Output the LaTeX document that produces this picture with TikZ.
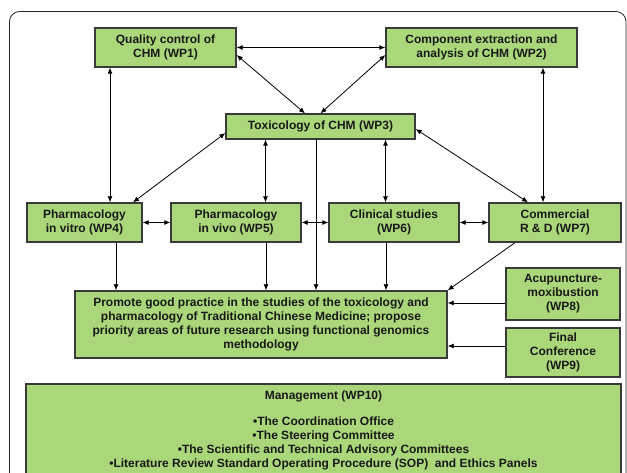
\documentclass[tikz,border=0pt]{standalone}
\usepackage{fontspec}
\setmainfont{Liberation Sans}
\usetikzlibrary{arrows.meta}
\definecolor{boxgreen}{RGB}{170,215,122}
\definecolor{boxline}{RGB}{58,58,58}
\begin{document}
\begin{tikzpicture}[x=1pt,y=-1pt,
  wpbox/.style={draw=boxline,line width=1.3pt,fill=boxgreen,inner sep=0pt,align=center,
    text=black!90,font=\fontsize{12}{14}\selectfont\bfseries},
  bi/.style={line width=0.8pt,{Latex[length=6pt,width=5pt]}-{Latex[length=6pt,width=5pt]}},
  uni/.style={line width=0.8pt,-{Latex[length=6pt,width=5pt]}}]
\useasboundingbox (0,0) rectangle (627,473);
% outer frame
\draw[line width=0.8pt,draw=black!85,rounded corners=10pt] (9.5,520) -- (9.5,11.5) -- (626,11.5) -- (626,520);
% boxes
\node[wpbox,minimum width=141pt,minimum height=39pt] (wp1) at (165.5,47.5) {Quality control of\\CHM (WP1)};
\node[wpbox,minimum width=191pt,minimum height=39pt] (wp2) at (481.5,47.5) {Component extraction and\\analysis of CHM (WP2)};
\node[wpbox,minimum width=189pt,minimum height=25pt] (wp3) at (320.5,126.5) {Toxicology of CHM (WP3)};
\node[wpbox,minimum width=115pt,minimum height=39pt] (wp4) at (84.5,222.5) {Pharmacology\\in vitro (WP4)};
\node[wpbox,minimum width=130pt,minimum height=39pt] (wp5) at (236,222.5) {Pharmacology\\in vivo (WP5)};
\node[wpbox,minimum width=130pt,minimum height=39pt] (wp6) at (394,222.5) {Clinical studies\\(WP6)};
\node[wpbox,minimum width=132pt,minimum height=39pt] (wp7) at (555,222.5) {Commercial\\R \& D (WP7)};
\node[wpbox,minimum width=372pt,minimum height=67pt] (prom) at (261,324.5) {Promote good practice in the studies of the toxicology and\\pharmacology of Traditional Chinese Medicine; propose\\priority areas of future research using functional genomics\\methodology};
\node[wpbox,minimum width=114pt,minimum height=52pt] (wp8) at (563,294) {Acupuncture-\\moxibustion\\(WP8)};
\node[wpbox,minimum width=114pt,minimum height=49pt] (wp9) at (563,352.5) {Final\\Conference\\(WP9)};
\node[wpbox,minimum width=595pt,minimum height=92pt] (wp10) at (323.5,430) {Management (WP10)\\[12pt]•The Coordination Office\\•The Steering Committee\\•The Scientific and Technical Advisory Committees\\•Literature Review Standard Operating Procedure (SOP)\ \ and Ethics Panels};
% connectors
\draw[bi] (wp1.east) -- (wp2.west);
\draw[bi] ([yshift=-7.5pt]wp1.east) -- ([xshift=-15.5pt]wp3.north);
\draw[bi] ([yshift=-7.5pt]wp2.west) -- (wp3.north);
\draw[bi] ([xshift=-55.5pt]wp1.south) -- ([xshift=-55.5pt]wp1.south |- wp4.north);
\draw[bi] ([xshift=61.5pt]wp2.south) -- ([xshift=61.5pt]wp2.south |- wp7.north);
\draw[bi] ([yshift=-6.5pt]wp3.west) -- ([xshift=48.5pt]wp4.north);
\draw[bi] ([xshift=-55pt]wp3.south) -- ([xshift=-55pt]wp3.south |- wp5.north);
\draw[bi] ([xshift=65pt]wp3.south) -- ([xshift=65pt]wp3.south |- wp6.north);
\draw[bi] ([yshift=-2.5pt]wp3.east) -- ([xshift=-27pt]wp7.north);
\draw[uni] ([xshift=-4.5pt]wp3.south) -- ([xshift=-4.5pt]wp3.south |- prom.north);
\draw[bi] (wp4.east) -- (wp5.west);
\draw[bi] (wp5.east) -- (wp6.west);
\draw[bi] (wp6.east) -- (wp7.west);
\draw[uni] ([xshift=31.5pt]wp4.south) -- ([xshift=31.5pt]wp4.south |- prom.north);
\draw[uni] ([xshift=30pt]wp5.south) -- ([xshift=30pt]wp5.south |- prom.north);
\draw[uni] ([xshift=-8pt]wp6.south) -- ([xshift=-8pt]wp6.south |- prom.north);
\draw[uni] ([xshift=-40pt]wp7.south) -- (prom.north east);
\draw[uni] ([yshift=-9pt]wp8.west) -- ([yshift=-9pt]wp8.west -| prom.east);
\draw[uni] ([yshift=6.5pt]wp9.west) -- ([yshift=6.5pt]wp9.west -| prom.east);
\end{tikzpicture}
\end{document}
